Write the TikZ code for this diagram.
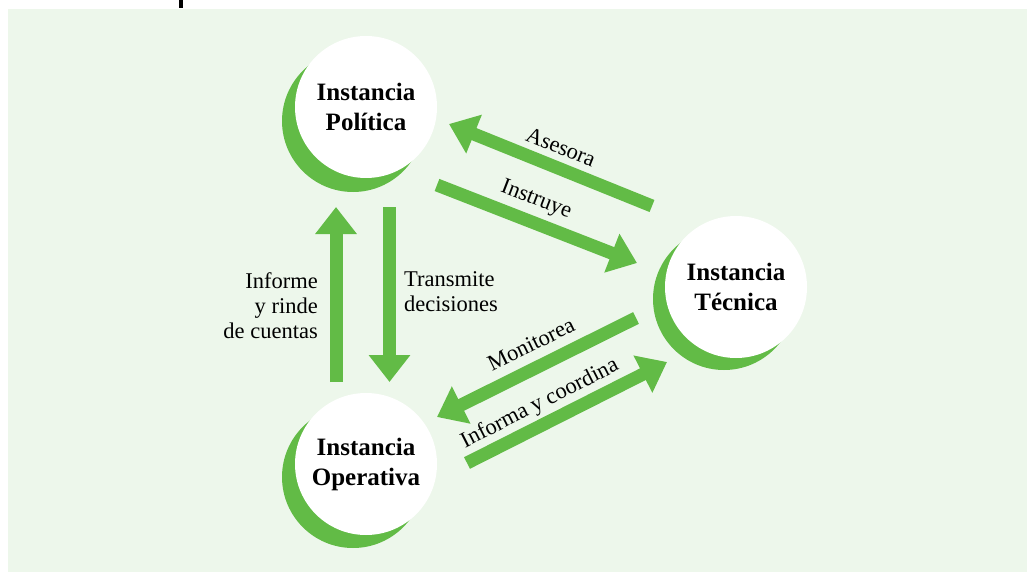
\documentclass[tikz,border=0pt]{standalone}
\usepackage{fontspec}
\setmainfont{Liberation Serif}
\usetikzlibrary{arrows.meta}
\definecolor{bg}{RGB}{237,247,235}
\definecolor{leaf}{RGB}{98,187,70}
\begin{document}
\begin{tikzpicture}[x=1pt,y=-1pt,
  bigarrow/.style={draw=leaf, line width=13pt, -{Triangle[width=40pt,length=27pt]}},
  inst/.style={circle, fill=white, minimum size=142pt, inner sep=0pt, align=center,
    font=\fontsize{25}{30}\selectfont\bfseries},
  crescent/.style={circle, fill=leaf, minimum size=142pt, inner sep=0pt},
  lbl/.style={font=\fontsize{22.5}{25}\selectfont, inner sep=0pt}]
\useasboundingbox (0,0) rectangle (1027,572);
\fill[bg] (8,9) rectangle (1027,572);
\fill[black] (179,0) rectangle (183,8);

% circles
\node[crescent] (polc) at (353,121) {};
\node[inst] (pol) at (366,107) {Instancia\\Política};
\node[crescent] (tecc) at (724,299) {};
\node[inst] (tec) at (736,287) {Instancia\\Técnica};
\node[crescent] (opec) at (353,477) {};
\node[inst] (ope) at (366,464) {Instancia\\Operativa};

% arrow end points
\coordinate (upS) at (336,382);
\coordinate (upE) at (336,207);
\coordinate (dnS) at (389.5,207);
\coordinate (dnE) at (389.5,382);
\coordinate (asS) at (652,206);
\coordinate (asE) at (449,124);
\coordinate (inS) at (437,185);
\coordinate (inE) at (637,263);
\coordinate (moS) at (636,318);
\coordinate (moE) at (437,417);
\coordinate (icS) at (467,463);
\coordinate (icE) at (667,362);

\draw[bigarrow] (upS) -- (upE);
\draw[bigarrow] (dnS) -- (dnE);
\draw[bigarrow] (asS) -- (asE);
\draw[bigarrow] (inS) -- (inE);
\draw[bigarrow] (moS) -- (moE);
\draw[bigarrow] (icS) -- (icE);

% labels
\node[lbl, align=right, anchor=east] (linf) at (318,306) {Informe\\y rinde\\de cuentas};
\node[lbl, align=left, anchor=west] (ltra) at (404,292) {Transmite\\decisiones};
\node[lbl, rotate=-22] (lase) at (561,147) {Asesora};
\node[lbl, rotate=-21] (lins) at (536,200) {Instruye};
\node[lbl, rotate=26] (lmon) at (531,344) {Monitorea};
\node[lbl, rotate=27] (lico) at (540,404) {Informa y coordina};
\end{tikzpicture}
\end{document}
